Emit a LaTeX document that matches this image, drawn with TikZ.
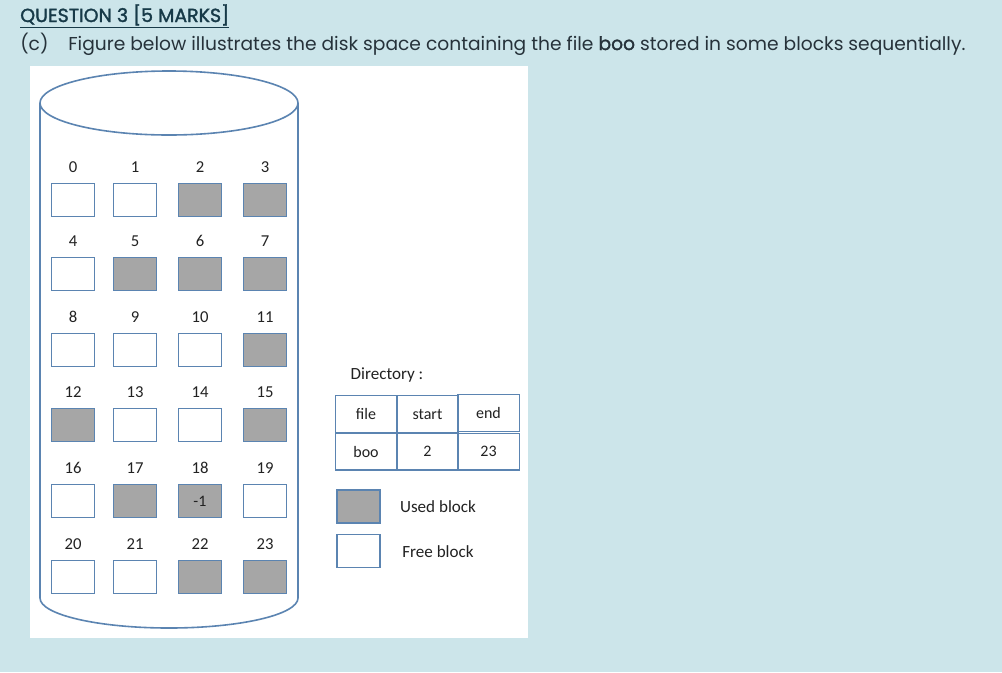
\documentclass[tikz,border=0pt]{standalone}
\usepackage{fontspec}
\setmainfont{Carlito}
\newfontfamily\pop{Poppins}
\newfontfamily\popb{Poppins}[FakeBold=1.6]
\definecolor{bg}{HTML}{CCE5EA}
\definecolor{edge}{HTML}{5B84B1}
\definecolor{usedgray}{HTML}{A6A6A6}
\definecolor{head}{HTML}{173A48}
\definecolor{bodytext}{HTML}{26323A}
\definecolor{dtext}{HTML}{222222}
\begin{document}
\begin{tikzpicture}[x=0.75pt,y=-0.75pt,
  blk/.style={draw=edge,line width=1pt,minimum width=32.25pt,minimum height=24.75pt,inner sep=0pt,font=\fontsize{12}{14}\selectfont,text=dtext},
  usedblk/.style={blk,fill=usedgray},
  freeblk/.style={blk,fill=white},
  lbl/.style={font=\fontsize{12.5}{14}\selectfont,text=dtext,inner sep=0pt},
  cell/.style={draw=edge,line width=1pt,minimum width=46pt,minimum height=27.5pt,inner sep=0pt,font=\fontsize{12}{14}\selectfont,text=dtext},
  txt/.style={font=\fontsize{12.8}{14}\selectfont,text=dtext,inner sep=0pt}
]
\useasboundingbox (0,0) rectangle (1002,672);
\fill[bg] (0,0) rectangle (1002,672);
\fill[white] (30,66) rectangle (528,638);
% heading
\node[anchor=base west,inner sep=0pt,text=head] (title) at (20,22) {\popb\fontsize{14.2}{16}\selectfont\underline{QUESTION 3 [5 MARKS]}};
\node[anchor=base west,inner sep=0pt,text=bodytext] (cc) at (20,50) {\pop\fontsize{14}{16}\selectfont (c)};
\node[anchor=base west,inner sep=0pt,text=bodytext] (line) at (68,50) {\pop\fontsize{14}{16}\selectfont Figure below illustrates the disk space containing the file {\popb boo} stored in some blocks sequentially.};
% cylinder
\draw[edge,line width=1.2pt] (169,103) ellipse [x radius=129,y radius=32];
\draw[edge,line width=1.2pt] (40,103) -- (40,598) arc[start angle=180,end angle=0,x radius=129,y radius=30] -- (298,103);
% blocks
\foreach \i/\t in {0/freeblk,1/freeblk,2/usedblk,3/usedblk,4/freeblk,5/usedblk,6/usedblk,7/usedblk,8/freeblk,9/freeblk,10/freeblk,11/usedblk,12/usedblk,13/freeblk,14/freeblk,15/usedblk,16/freeblk,17/usedblk,18/usedblk,19/freeblk,20/freeblk,21/freeblk,22/usedblk,23/usedblk}{
  \pgfmathtruncatemacro{\c}{mod(\i,4)}
  \pgfmathtruncatemacro{\r}{int(\i/4)}
  \pgfmathsetmacro{\xx}{{73,135,200,265}[\c]}
  \pgfmathsetmacro{\yy}{{200,274,350,425,501,577}[\r]}
  \node[\t] (b\i) at (\xx,\yy) {\ifnum\i=18 -1\fi};
  \node[lbl] (l\i) at (\xx,\yy-33) {\i};
}
% directory
\node[txt] (dir) at (387,375) {Directory :};
\node[cell] (hfile) at (366,414) {file};
\node[cell] (hstart) at (427.5,414) {start};
\node[cell] (hend) at (488.5,413) {end};
\node[cell] (vfile) at (366,451.5) {boo};
\node[cell] (vstart) at (427.5,451.5) {2};
\node[cell] (vend) at (488.5,451.5) {23};
% legend
\node[usedblk] (lu) at (358.5,506.5) {};
\node[freeblk] (lf) at (358.5,551) {};
\node[txt] (tu) at (438,507) {Used block};
\node[txt] (tf) at (438,552) {Free block};
\end{tikzpicture}
\end{document}
